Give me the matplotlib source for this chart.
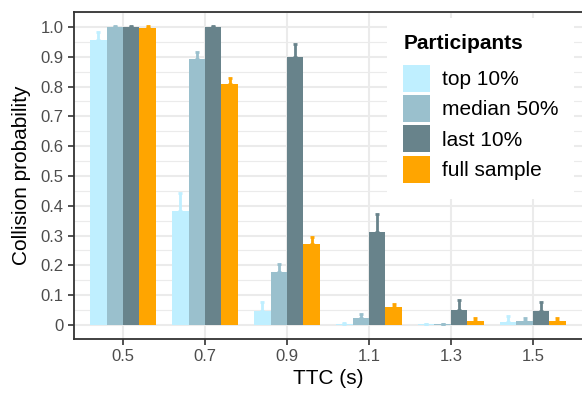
import numpy as np
import matplotlib
matplotlib.use("Agg")
import matplotlib.pyplot as plt
from matplotlib.patches import Patch

ttc = ["0.5", "0.7", "0.9", "1.1", "1.3", "1.5"]
groups = ["top 10%", "median 50%", "last 10%", "full sample"]
colors = ["#BFEFFF", "#9AC0CD", "#68838B", "#FFA500"]

mean_top10 = [0.956, 0.383, 0.047, 0.003, 0.003, 0.010]
mean_median = [1.000, 0.893, 0.178, 0.022, 0.003, 0.013]
mean_last = [1.000, 1.000, 0.899, 0.312, 0.050, 0.047]
mean_full = [0.997, 0.809, 0.272, 0.060, 0.013, 0.013]

upper_top10 = [0.984, 0.443, 0.076, 0.006, 0.005, 0.030]
upper_median = [1.002, 0.915, 0.204, 0.036, 0.004, 0.025]
upper_last = [1.002, 1.002, 0.943, 0.372, 0.084, 0.077]
upper_full = [1.003, 0.830, 0.296, 0.071, 0.023, 0.023]

means = [mean_top10, mean_median, mean_last, mean_full]
uppers = [upper_top10, upper_median, upper_last, upper_full]

plt.rcParams['font.family'] = ['Liberation Sans', 'DejaVu Sans']

fig = plt.figure(figsize=(5.82, 3.96), dpi=100)
ax = fig.add_axes([0.127, 0.1439, 0.873, 0.8258])

x = np.arange(len(ttc))
w = 0.2
for i, (m, u, c) in enumerate(zip(means, uppers, colors)):
    pos = x - 0.3 + i * w
    ax.bar(pos, m, width=w, color=c, zorder=3, linewidth=0)
    err = np.array(u) - np.array(m)
    ax.errorbar(pos, m, yerr=[np.zeros_like(err), err], fmt='none',
                ecolor=c, elinewidth=2, capsize=1.6, capthick=2, zorder=3)

ax.set_xlim(-0.6, len(ttc) - 0.4)
ax.set_ylim(-0.047, 1.050)
ax.set_xticks(x)
ax.set_xticklabels(ttc)
ax.set_yticks(np.arange(0, 1.01, 0.1))
ax.set_yticklabels(["0", "0.1", "0.2", "0.3", "0.4", "0.5", "0.6", "0.7", "0.8", "0.9", "1.0"])
ax.set_yticks(np.arange(0.05, 1.06, 0.1), minor=True)
ax.set_xticks(x[:-1] + 0.5, minor=True)

ax.grid(True, which='major', color='#EBEBEB', linewidth=1.5, zorder=0)
ax.grid(True, which='minor', axis='y', color='#EBEBEB', linewidth=0.8, zorder=0)
ax.tick_params(which='minor', length=0)
ax.tick_params(which='major', length=4.5, width=1.2, color='#333333',
               labelsize=12, labelcolor='#4D4D4D', pad=3)
ax.spines['right'].set_visible(False)
for s in ['left', 'bottom', 'top']:
    ax.spines[s].set_color('#333333')
    ax.spines[s].set_linewidth(1.3)

ax.set_xlabel("TTC (s)", fontsize=15, labelpad=3)
ax.set_ylabel("Collision probability", fontsize=15, labelpad=7)

handles = [Patch(facecolor=c, edgecolor='none') for c in colors]
leg = ax.legend(handles, groups, title="Participants", loc='upper left',
                bbox_to_anchor=(0.616, 0.982), fontsize=15, title_fontsize=15,
                frameon=True, framealpha=1, edgecolor='none', facecolor='white',
                handlelength=1.296, handleheight=1.617, handletextpad=0.55,
                labelspacing=0.16, borderpad=0.78, borderaxespad=0, fancybox=False)
leg.get_title().set_fontweight('bold')
leg._legend_box.align = "left"
leg._legend_box.sep = 8.3
leg.set_zorder(5)

fig.savefig("out.png", dpi=100)
